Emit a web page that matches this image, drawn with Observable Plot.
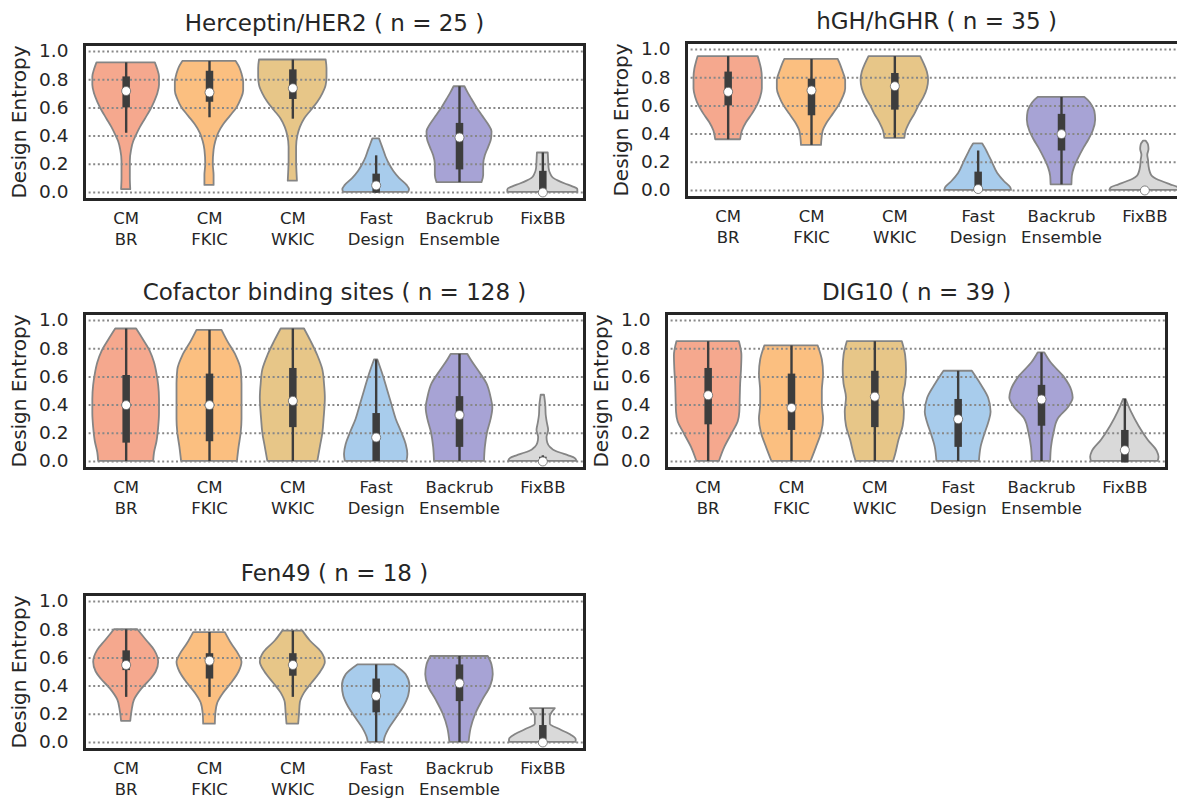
<!DOCTYPE html>
<html><head><meta charset="utf-8">
<script src="https://cdn.jsdelivr.net/npm/d3@7"></script>
<script src="https://cdn.jsdelivr.net/npm/@observablehq/plot@0.6"></script>
<style>
body{margin:0;background:#fff;}
#root{position:relative;width:1177px;height:798px;overflow:hidden;background:#fff;}
#root svg{position:absolute;overflow:visible;}
</style></head><body><div id="root"></div>
<script>
// ---------- data ----------
const categories = ["CM\nBR", "CM\nFKIC", "CM\nWKIC", "Fast\nDesign", "Backrub\nEnsemble", "FixBB"];
const colors = ["#F5A88E", "#FBBF80", "#E7C688", "#A8CCEC", "#A7A3D5", "#D9D9D9"];
const yTicks = [0, 0.2, 0.4, 0.6, 0.8, 1.0];
const titles = ["Herceptin/HER2 ( n = 25 )", "hGH/hGHR ( n = 35 )", "Cofactor binding sites ( n = 128 )", "DIG10 ( n = 39 )", "Fen49 ( n = 18 )"];
const yLabel = "Design Entropy";

// violin profiles: [design entropy, relative density (half width)]
const hercProfiles = [
  [[0.02,0.055],[0.10,0.05],[0.22,0.05],[0.30,0.065],[0.36,0.09],[0.40,0.12],[0.46,0.17],[0.52,0.23],[0.58,0.29],[0.64,0.34],[0.70,0.38],[0.76,0.40],[0.82,0.40],[0.87,0.38],[0.92,0.35]],
  [[0.05,0.055],[0.12,0.055],[0.20,0.045],[0.30,0.055],[0.36,0.075],[0.42,0.11],[0.48,0.17],[0.54,0.25],[0.60,0.33],[0.66,0.38],[0.72,0.41],[0.78,0.41],[0.84,0.39],[0.89,0.36],[0.93,0.32]],
  [[0.08,0.055],[0.14,0.05],[0.22,0.045],[0.32,0.045],[0.40,0.06],[0.46,0.09],[0.52,0.14],[0.58,0.22],[0.64,0.30],[0.70,0.36],[0.76,0.40],[0.82,0.41],[0.88,0.41],[0.94,0.40]],
  [[0.0,0.39],[0.02,0.40],[0.05,0.37],[0.10,0.28],[0.15,0.21],[0.20,0.16],[0.25,0.12],[0.30,0.09],[0.34,0.065],[0.38,0.04]],
  [[0.07,0.27],[0.12,0.29],[0.20,0.29],[0.26,0.31],[0.32,0.35],[0.38,0.385],[0.43,0.39],[0.48,0.35],[0.54,0.28],[0.60,0.21],[0.66,0.15],[0.71,0.10],[0.75,0.065]],
  [[0.0,0.42],[0.02,0.42],[0.04,0.36],[0.06,0.27],[0.08,0.19],[0.10,0.13],[0.13,0.095],[0.17,0.075],[0.22,0.07],[0.28,0.065]]
];
// box: [whisker low, q1, median, q3, whisker high]
const hercBoxes = [
  [0.42,0.60,0.72,0.82,0.92],[0.53,0.64,0.71,0.86,0.93],[0.52,0.66,0.74,0.87,0.94],
  [-0.005,-0.005,0.05,0.13,0.26],[0.07,0.16,0.39,0.49,0.75],[0.0,0.0,0.0,0.15,0.28]
];

const hghProfiles = [
  [[0.36,0.15],[0.42,0.17],[0.48,0.22],[0.54,0.29],[0.60,0.35],[0.66,0.39],[0.72,0.41],[0.80,0.41],[0.86,0.40],[0.91,0.38],[0.95,0.36]],
  [[0.32,0.12],[0.36,0.125],[0.42,0.14],[0.48,0.19],[0.54,0.26],[0.60,0.33],[0.66,0.38],[0.72,0.41],[0.78,0.41],[0.84,0.38],[0.89,0.35],[0.93,0.32]],
  [[0.37,0.12],[0.42,0.135],[0.48,0.18],[0.54,0.24],[0.60,0.29],[0.66,0.35],[0.72,0.39],[0.78,0.405],[0.84,0.39],[0.90,0.35],[0.95,0.31]],
  [[0.0,0.40],[0.02,0.39],[0.06,0.32],[0.12,0.235],[0.20,0.17],[0.26,0.12],[0.30,0.085],[0.33,0.055]],
  [[0.04,0.125],[0.10,0.13],[0.16,0.155],[0.22,0.20],[0.30,0.27],[0.36,0.33],[0.42,0.38],[0.50,0.41],[0.56,0.40],[0.60,0.37],[0.64,0.32],[0.66,0.28]],
  [[0.0,0.42],[0.02,0.40],[0.04,0.31],[0.06,0.22],[0.08,0.14],[0.10,0.09],[0.13,0.065],[0.17,0.05],[0.21,0.045],[0.25,0.035],[0.29,0.05],[0.32,0.045],[0.35,0.015]]
];
const hghBoxes = [
  [0.36,0.60,0.70,0.84,0.95],[0.32,0.53,0.71,0.79,0.93],[0.37,0.57,0.74,0.83,0.95],
  [0.0,0.0,0.01,0.13,0.28],[0.04,0.28,0.40,0.54,0.66],[0.0,0.0,0.0,0.0,0.0]
];

const cofProfiles = [
  [[0.0,0.33],[0.06,0.34],[0.14,0.37],[0.24,0.39],[0.34,0.40],[0.44,0.40],[0.54,0.39],[0.62,0.37],[0.70,0.34],[0.78,0.29],[0.86,0.21],[0.94,0.125]],
  [[0.0,0.335],[0.10,0.355],[0.20,0.38],[0.30,0.39],[0.45,0.39],[0.55,0.39],[0.65,0.38],[0.75,0.32],[0.85,0.22],[0.93,0.15]],
  [[0.0,0.30],[0.10,0.33],[0.20,0.36],[0.30,0.375],[0.45,0.39],[0.55,0.38],[0.65,0.36],[0.75,0.30],[0.85,0.22],[0.94,0.14]],
  [[0.0,0.37],[0.05,0.38],[0.12,0.36],[0.20,0.31],[0.30,0.24],[0.40,0.19],[0.50,0.14],[0.60,0.09],[0.67,0.05],[0.72,0.02]],
  [[0.0,0.30],[0.10,0.31],[0.20,0.335],[0.30,0.38],[0.38,0.40],[0.45,0.38],[0.55,0.33],[0.65,0.22],[0.72,0.14],[0.76,0.10]],
  [[0.0,0.41],[0.02,0.39],[0.04,0.31],[0.06,0.21],[0.08,0.13],[0.10,0.09],[0.13,0.06],[0.17,0.05],[0.22,0.07],[0.27,0.055],[0.33,0.04],[0.40,0.035],[0.47,0.02]]
];
const cofBoxes = [
  [0.0,0.13,0.40,0.61,0.94],[0.0,0.14,0.40,0.62,0.93],[0.0,0.24,0.43,0.66,0.94],
  [0.0,0.0,0.17,0.34,0.72],[0.0,0.10,0.33,0.46,0.76],[0.0,0.0,0.0,0.03,0.04]
];

const digProfiles = [
  [[0.0,0.135],[0.10,0.20],[0.20,0.29],[0.28,0.36],[0.35,0.38],[0.45,0.385],[0.55,0.39],[0.65,0.40],[0.75,0.405],[0.85,0.375]],
  [[0.0,0.235],[0.10,0.30],[0.20,0.36],[0.30,0.385],[0.40,0.37],[0.50,0.37],[0.62,0.385],[0.72,0.37],[0.82,0.32]],
  [[0.0,0.225],[0.05,0.25],[0.15,0.29],[0.25,0.34],[0.35,0.355],[0.45,0.34],[0.55,0.37],[0.65,0.38],[0.75,0.37],[0.85,0.33]],
  [[0.0,0.255],[0.10,0.275],[0.20,0.325],[0.28,0.37],[0.35,0.395],[0.45,0.365],[0.55,0.27],[0.64,0.17]],
  [[0.0,0.11],[0.10,0.12],[0.20,0.15],[0.30,0.20],[0.38,0.32],[0.45,0.38],[0.50,0.365],[0.60,0.27],[0.70,0.115],[0.77,0.04]],
  [[0.0,0.40],[0.03,0.41],[0.07,0.39],[0.15,0.28],[0.25,0.17],[0.35,0.08],[0.44,0.015]]
];
const digBoxes = [
  [0.0,0.26,0.47,0.66,0.85],[0.0,0.22,0.38,0.62,0.82],[0.0,0.24,0.46,0.64,0.85],
  [0.0,0.10,0.30,0.44,0.64],[0.0,0.25,0.44,0.54,0.77],[-0.01,-0.01,0.08,0.22,0.44]
];

const fenProfiles = [
  [[0.15,0.055],[0.22,0.07],[0.30,0.10],[0.38,0.19],[0.45,0.30],[0.50,0.36],[0.57,0.39],[0.65,0.345],[0.72,0.25],[0.80,0.14]],
  [[0.13,0.07],[0.20,0.075],[0.28,0.10],[0.35,0.17],[0.42,0.265],[0.50,0.355],[0.57,0.39],[0.62,0.355],[0.70,0.265],[0.78,0.19]],
  [[0.13,0.07],[0.20,0.08],[0.28,0.09],[0.35,0.14],[0.42,0.23],[0.50,0.335],[0.57,0.39],[0.64,0.345],[0.72,0.21],[0.79,0.12]],
  [[0.0,0.095],[0.03,0.105],[0.10,0.16],[0.17,0.24],[0.25,0.33],[0.33,0.39],[0.40,0.405],[0.48,0.36],[0.55,0.22]],
  [[0.0,0.115],[0.10,0.14],[0.20,0.195],[0.30,0.28],[0.40,0.375],[0.48,0.405],[0.55,0.39],[0.61,0.345]],
  [[0.0,0.40],[0.02,0.40],[0.05,0.345],[0.09,0.21],[0.13,0.09],[0.18,0.09],[0.24,0.15]]
];
const fenBoxes = [
  [0.32,0.51,0.55,0.65,0.80],[0.32,0.45,0.58,0.63,0.78],[0.32,0.47,0.55,0.63,0.79],
  [0.0,0.21,0.33,0.45,0.55],[0.0,0.29,0.42,0.55,0.61],[0.0,0.0,0.0,0.12,0.24]
];

// ---------- layout ----------
const FW = 500, FH = 155, ML = 84, MT = 44, MR = 12, MB = 62;
const panels = [
  {title: titles[0], profiles: hercProfiles, boxes: hercBoxes, left: 84, top: 44},
  {title: titles[1], profiles: hghProfiles, boxes: hghBoxes, left: 686, top: 42},
  {title: titles[2], profiles: cofProfiles, boxes: cofBoxes, left: 84, top: 313},
  {title: titles[3], profiles: digProfiles, boxes: digBoxes, left: 666, top: 313},
  {title: titles[4], profiles: fenProfiles, boxes: fenBoxes, left: 84, top: 594}
];

const root = document.getElementById("root");
for (const p of panels) {
  const vData = p.profiles.flatMap((prof, i) => prof.map(([v, w]) => ({i, v, w})));
  const bData = p.boxes.map(([lo, q1, med, q3, hi], i) => ({i, lo, q1, med, q3, hi}));
  const svg = Plot.plot({
    width: ML + FW + MR, height: MT + FH + MB,
    marginLeft: ML, marginTop: MT, marginRight: MR, marginBottom: MB,
    x: {domain: [-0.5, 5.5]},
    y: {domain: [-0.05, 1.05]},
    style: {fontFamily: "'DejaVu Sans', sans-serif", color: "#262626", background: "transparent"},
    marks: [
      Plot.areaX(vData, {y: "v", x1: d => d.i - d.w, x2: d => d.i + d.w, z: "i",
        fill: d => colors[d.i], stroke: "#858585", strokeWidth: 1.8, curve: "monotone-y"}),
      Plot.ruleY(yTicks, {stroke: "#888888", strokeWidth: 2, strokeDasharray: "2,2.6"}),
      Plot.ruleX(bData, {x: "i", y1: "lo", y2: "hi", stroke: "#3d3d3d", strokeWidth: 2.4}),
      Plot.ruleX(bData, {x: "i", y1: "q1", y2: "q3", stroke: "#3d3d3d", strokeWidth: 7.5}),
      Plot.dot(bData, {x: "i", y: "med", r: 4.5, fill: "white", stroke: "#666", strokeWidth: 0.8}),
      Plot.frame({stroke: "#262626", strokeWidth: 3}),
      Plot.axisY(yTicks, {tickSize: 0, tickPadding: 16, tickFormat: d3.format(".1f"), fontSize: 18.5, label: null}),
      Plot.axisX(d3.range(6), {tickSize: 0, tickPadding: 10, tickFormat: i => categories[i], fontSize: 16.5, lineHeight: 1.26, label: null}),
      Plot.text([p.title], {text: d => d, frameAnchor: "top", dy: -21, fontSize: 23, textAnchor: "middle", lineAnchor: "middle", fill: "#262626"}),
      Plot.text([yLabel], {text: d => d, frameAnchor: "left", dx: -65, rotate: -90, fontSize: 20, textAnchor: "middle", lineAnchor: "middle", fill: "#262626"})
    ]
  });
  svg.style.left = (p.left - ML) + "px";
  svg.style.top = (p.top - MT) + "px";
  root.appendChild(svg);
}
</script>
</body></html>
